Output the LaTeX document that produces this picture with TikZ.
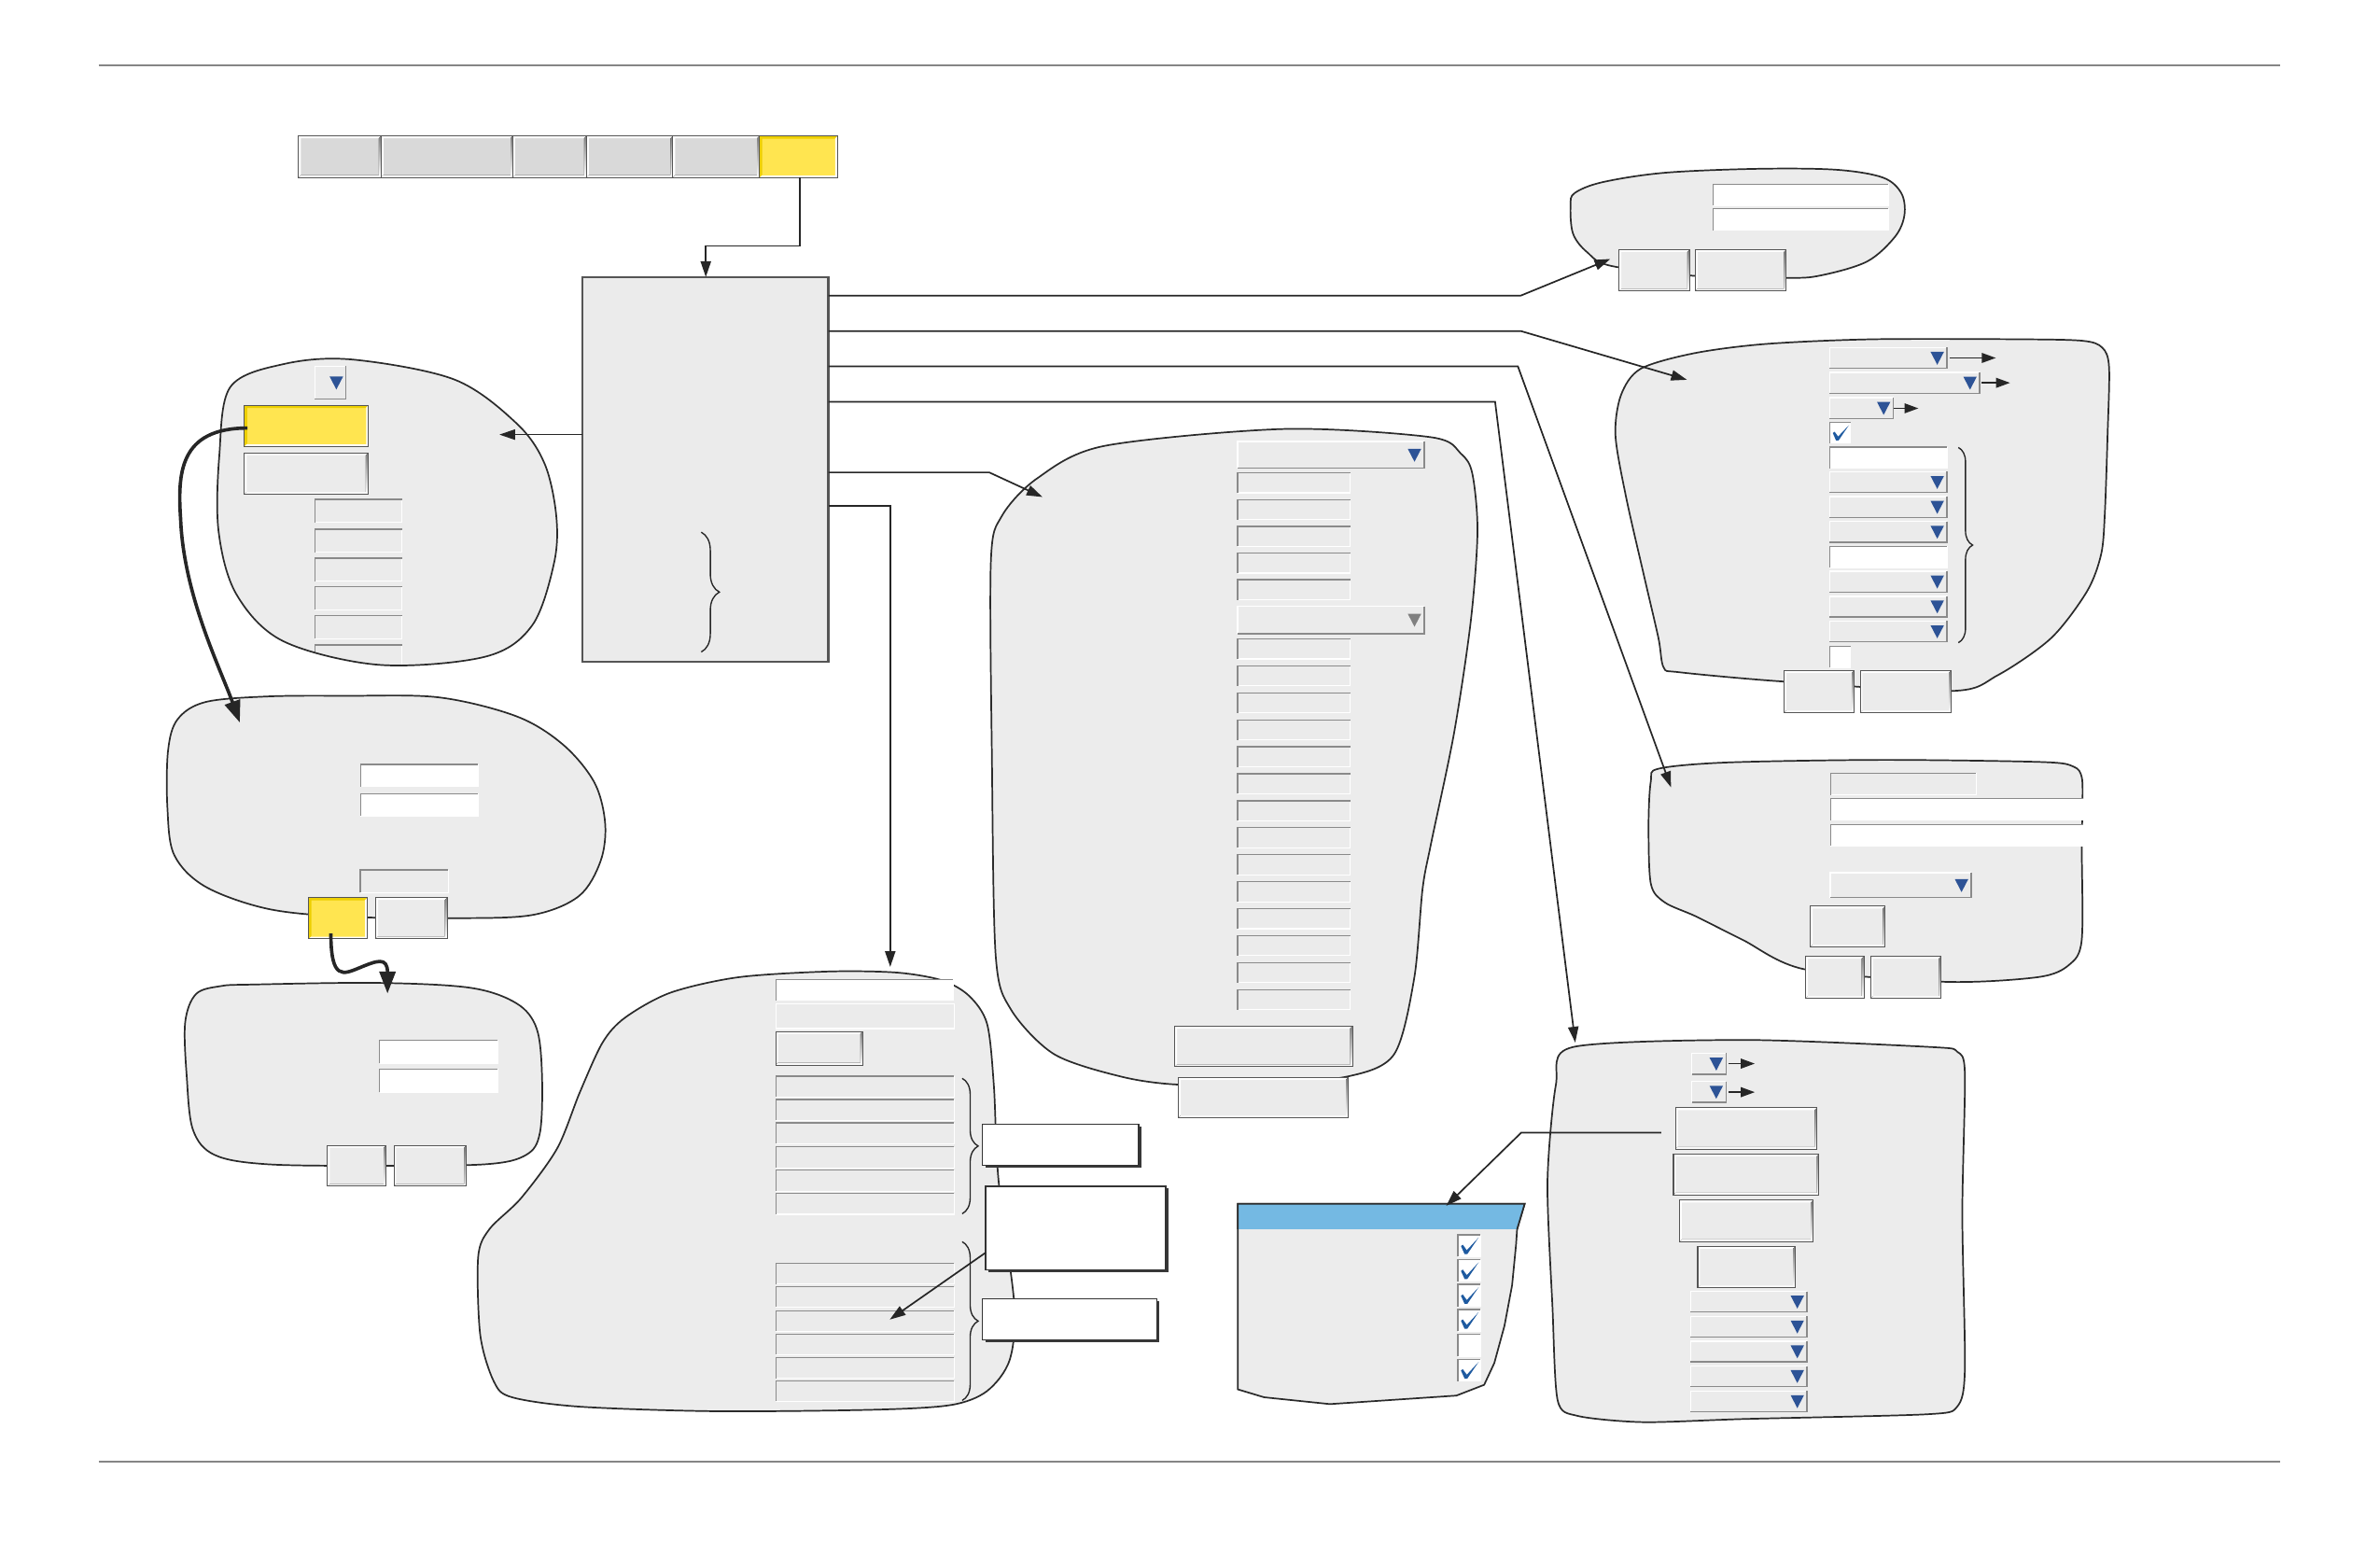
\documentclass[tikz,border=0pt]{standalone}
\usetikzlibrary{arrows.meta,decorations.pathreplacing,calc}
\definecolor{bubfill}{HTML}{ECECEC}
\definecolor{tabgray}{HTML}{D9D9D9}
\definecolor{btngray}{HTML}{EBEBEB}
\definecolor{shade}{HTML}{A8A8A8}
\definecolor{edge}{HTML}{555555}
\definecolor{fieldedge}{HTML}{8A8A8A}
\definecolor{ylw}{HTML}{FFE550}
\definecolor{ylwdark}{HTML}{EDCF00}
\definecolor{tri}{HTML}{2D5396}
\definecolor{trigray}{HTML}{808080}
\definecolor{hdrblue}{HTML}{74B9E3}
\definecolor{chk}{HTML}{1E5AA0}
\definecolor{rulecol}{HTML}{858585}
\definecolor{outl}{HTML}{2B2B2B}
\newcommand{\uiRaised}[5]{%
  \fill[#1] (#2,#3) rectangle (#4,#5);
  \fill[white] (#2,#3) -- (#4,#3) -- (#4-1.5,#3+1.5) -- (#2+1.5,#3+1.5) -- (#2+1.5,#5-1.5) -- (#2,#5) -- cycle;
  \fill[shade] (#4,#5) -- (#4,#3) -- (#4-1.5,#3+1.5) -- (#4-1.5,#5-1.5) -- (#2+1.5,#5-1.5) -- (#2,#5) -- cycle;
  \draw[edge, line width=0.45pt] (#2,#3) rectangle (#4,#5);
}
\newcommand{\uiPressed}[4]{%
  \fill[ylw] (#1,#2) rectangle (#3,#4);
  \fill[white] (#1,#4) -- (#3,#4) -- (#3,#2) -- (#3-1.3,#2+1.3) -- (#3-1.3,#4-1.3) -- (#1+1.3,#4-1.3) -- cycle;
  \fill[ylwdark] (#1,#4) -- (#1,#2) -- (#3,#2) -- (#3-1.8,#2+1.8) -- (#1+1.8,#2+1.8) -- (#1+1.8,#4-1.8) -- cycle;
  \draw[edge, line width=0.45pt] (#1,#2) rectangle (#3,#4);
}
\newcommand{\uiField}[5]{%
  \fill[#1] (#2,#3) rectangle (#4,#5);
  \draw[white, line width=0.5pt] (#2,#5) -- (#4,#5) -- (#4,#3);
  \draw[fieldedge, line width=0.6pt] (#2,#5) -- (#2,#3) -- (#4,#3);
}
\newcommand{\uiDrop}[5]{%
  \fill[btngray] (#2,#3) rectangle (#4,#5);
  \draw[white, line width=0.6pt] (#2,#5) -- (#2,#3) -- (#4,#3);
  \draw[fieldedge, line width=0.6pt] (#2,#5) -- (#4,#5) -- (#4,#3);
  \fill[#1] ({#4-10.8},{(#3+#5)/2-4}) -- ({#4-2.0},{(#3+#5)/2-4}) -- ({#4-6.4},{(#3+#5)/2+4.5}) -- cycle;
}
\newcommand{\uiTick}[4]{%
  \fill[chk] ({#1+2.0},{(#2+#4)/2+0.3}) -- ({#1+3.2},{(#2+#4)/2-0.6}) -- ({#1+0.4*(#3-#1)},{#4-4.2}) -- ({#3-1.0},{#2+1.8}) -- ({#3-1.6},{#2+2.6}) -- ({#1+0.42*(#3-#1)},{#4-1.6}) -- ({#1+0.3*(#3-#1)},{#4-1.6}) -- cycle;
}
\newcommand{\uiShadowBox}[4]{%
  \fill[black!78] (#1+1.8,#2+1.4) rectangle (#3+1.8,#4+1.4);
  \draw[fill=white, draw=black!80, line width=0.6pt] (#1,#2) rectangle (#3,#4);
}
\def\pathA{plot[smooth cycle, tension=0.55] coordinates {(231.6,236.8) (299.3,250) (340.3,278.9) (358.8,305.5) (366.5,340) (365,371) (350.6,412) (319.8,432.6) (250,438) (186.6,422.4) (155.8,391.6) (144,350) (144.5,300) (151.7,255) (186.6,239.9)}}
\def\pathB{plot[smooth cycle, tension=0.55] coordinates {(227.6,458.4) (289,459.4) (340.3,471.9) (371,490.6) (391.6,515.5) (398.7,542.6) (395.6,567.5) (381.3,590.4) (350.6,602.8) (299.3,604.9) (227.6,603.9) (176.3,598.7) (135.3,584.1) (114.8,563.3) (110.3,532.2) (110.7,494.7) (116.9,474) (135.3,462.5) (176.3,458.8)}}
\def\pathC{plot[smooth cycle, tension=0.55] coordinates {(166,648.6) (248,647.5) (309.6,650.7) (340.3,661) (353.6,677.7) (357.1,708.9) (355.7,746.3) (346.5,760.9) (319.8,767) (248,768) (176.3,767) (141.5,760.9) (127.1,744.2) (123,708.9) (122,673.5) (129.2,654.8) (145.6,649.6)}}
\def\pathD{plot[smooth cycle, tension=0.55] coordinates {(1034.7,135.4) (1037.4,127.2) (1055.8,120) (1096.8,113.8) (1158.3,111.2) (1209.5,111.8) (1240.3,116.9) (1252.6,127.2) (1254.7,141.5) (1248.5,155.9) (1230,172.3) (1199.3,181.5) (1176.8,183.1) (1120,182) (1062,175.3) (1045.6,166.1) (1036.3,153.8)}}
\def\pathE{plot[smooth cycle, tension=0.5] coordinates {(1233.7,223.5) (1330,223.5) (1372,224.5) (1385,229) (1389.5,242) (1388.5,287) (1386.7,338.3) (1384.3,365) (1375,389.5) (1351.4,420.3) (1316,444.9) (1285.5,455.2) (1175,449) (1106.7,442.9) (1096.1,439.8) (1092.6,420.3) (1083.1,379.3) (1071.4,328) (1064.3,287) (1067.9,260.4) (1080.8,243) (1116.1,232.7) (1163.2,226.6)}}
\def\pathF{plot[smooth cycle, tension=0.5] coordinates {(846,282.6) (942.6,288) (962.4,298.8) (970,312) (973.4,350.3) (969,409) (958,482.7) (942.7,556.2) (937.2,585.7) (931.7,644.5) (918.5,694.5) (887.7,709.2) (830,714) (775.8,714.5) (738.4,709.2) (694.5,694.5) (666,665) (656,629.8) (653.5,500) (652.8,370) (660,340) (683.5,315) (727.4,293.8)}}
\def\pathG{plot[smooth cycle, tension=0.45] coordinates {(1036.2,689.8) (1149.5,685.1) (1272.8,689.8) (1289.5,692.9) (1294.5,707.3) (1292.8,799.5) (1294.5,902) (1289.5,926.6) (1269.5,931.7) (1149.5,934.8) (1082.8,936.9) (1039.5,932.8) (1026.2,922.5) (1022.8,861) (1019.5,779) (1025,715)}}
\def\pathI{plot[smooth cycle, tension=0.5] coordinates {(546,640) (590.7,640.7) (620.5,645.8) (638.4,656) (650.3,674.5) (654.8,715.5) (657.8,777) (668.2,859) (665.2,895.9) (650.3,916.4) (626.5,925.6) (575.8,928.7) (471.5,929.7) (382,926.7) (337.3,920.5) (325.4,910.2) (316.4,879.5) (315,828.3) (322.4,809.8) (343.3,789.3) (367.1,756.5) (382,719.6) (397,686.8) (411.8,670.4) (441.6,654) (486.4,643.8)}}
\def\pathJ{plot[smooth cycle, tension=0.5] coordinates {(1092.7,506.4) (1137.8,502.3) (1240.3,500.6) (1345,502) (1366,505) (1371.5,512) (1372,530) (1371.5,557.6) (1371.5,619.1) (1363.3,635.5) (1342.8,643.7) (1281.3,646.8) (1189,638.6) (1148,619.1) (1117.3,603.7) (1096.8,594.5) (1087.6,582.2) (1086.1,543.3) (1087.6,514.6)}}
\begin{document}
\begin{tikzpicture}[x=0.25mm,y=-0.25mm,
  bubble/.style={fill=bubfill, draw=outl, line width=0.75pt},
  conn/.style={draw=black!85, line width=0.75pt, -{Triangle[length=2.6mm,width=1.7mm]}},
  smallconn/.style={draw=black!85, line width=0.75pt, -{Triangle[length=2.3mm,width=1.6mm]}},
  thickconn/.style={draw=black!85, line width=1.6pt, -{Triangle[length=3.6mm,width=2.6mm]}},
  bracestyle/.style={decorate, draw=black!85, line width=0.6pt}]
\useasboundingbox (0,0) rectangle (1568,1015);
% rules
\draw[rulecol, line width=0.6pt] (65,43) -- (1502,43);
\draw[rulecol, line width=0.6pt] (65,963) -- (1502,963);
% tabs
\uiRaised{tabgray}{196.7}{89.6}{251.1}{116.9}
\uiRaised{tabgray}{251.1}{89.6}{337.9}{116.9}
\uiRaised{tabgray}{337.9}{89.6}{386.4}{116.9}
\uiRaised{tabgray}{386.4}{89.6}{443.3}{116.9}
\uiRaised{tabgray}{443.3}{89.6}{500.3}{116.9}
\uiPressed{500.3}{89.6}{551.6}{116.9}
% main box
\draw[fill=btngray, draw=edge, line width=1pt] (383.8,182.5) rectangle (545.8,436);
\draw[bracestyle, decoration={brace, amplitude=8.5pt}] (462,350.6) -- (462,429.5);
% bubble A
\fill[bubfill] \pathA;
\begin{scope}
\clip \pathA;
\foreach \yy in {329,348.6,367.6,386.5,405.6,424.8} {\uiField{btngray}{207.5}{\yy}{264.9}{\yy+15.2}}
\end{scope}
\draw[draw=outl, line width=0.75pt] \pathA;
\uiDrop{tri}{207.5}{241.3}{228}{262.9}
\uiPressed{161}{267}{242.5}{294}
\uiRaised{btngray}{161}{298.3}{242.5}{325.6}
% bubble B
\path[bubble] \pathB;
\uiField{white}{237.6}{503.5}{315}{518.2}
\uiField{white}{237.6}{522.8}{315}{537.4}
\uiField{btngray}{237.3}{573}{295.4}{587.9}
\uiPressed{203.4}{591.4}{241.8}{618.4}
\uiRaised{btngray}{247.6}{591.4}{294.6}{618.4}
% bubble C
\path[bubble] \pathC;
\uiField{white}{250.1}{685.4}{328}{700.5}
\uiField{white}{250.1}{704.3}{328}{719.7}
\uiRaised{btngray}{215.8}{754.6}{254.3}{781.5}
\uiRaised{btngray}{259.5}{754.6}{307.3}{781.5}
% bubble D
\path[bubble] \pathD;
\uiField{white}{1128.6}{121.4}{1244}{135.4}
\uiField{white}{1128.6}{137.4}{1244}{151.8}
\uiRaised{btngray}{1066.7}{164.5}{1113.2}{191.7}
\uiRaised{btngray}{1116.9}{164.5}{1176.8}{191.7}
% bubble E
\path[bubble] \pathE;
\uiDrop{tri}{1205.5}{229}{1282.7}{242.6}
\uiDrop{tri}{1205.5}{245.4}{1304.3}{259}
\uiDrop{tri}{1205.5}{262}{1247.4}{275.6}
\uiField{white}{1205.5}{278.2}{1219.2}{291.8}
\uiTick{1205.5}{278.2}{1219.2}{291.8}
\uiField{white}{1205.5}{294.6}{1282.7}{308.6}
\uiDrop{tri}{1205.5}{310.8}{1282.7}{324.4}
\uiDrop{tri}{1205.5}{327.2}{1282.7}{340.8}
\uiDrop{tri}{1205.5}{343.6}{1282.7}{357.2}
\uiField{white}{1205.5}{360}{1282.7}{374}
\uiDrop{tri}{1205.5}{376.4}{1282.7}{390}
\uiDrop{tri}{1205.5}{392.8}{1282.7}{406.4}
\uiDrop{tri}{1205.5}{409.2}{1282.7}{422.8}
\uiField{white}{1205.5}{426}{1219.2}{439.8}
\draw[bracestyle, decoration={brace, amplitude=6.7pt}] (1290.2,294.8) -- (1290.2,423.4);
\uiRaised{btngray}{1175.4}{441.8}{1221.5}{469.5}
\uiRaised{btngray}{1225.5}{441.8}{1285.5}{469.5}
\coordinate (eA1) at (1284.3,235.8); \coordinate (eA1t) at (1314.9,235.8);
\coordinate (eA2) at (1305.5,252.2); \coordinate (eA2t) at (1324.3,252.2);
\coordinate (eA3) at (1247.9,269); \coordinate (eA3t) at (1263.9,269);
\draw[smallconn] (eA1) -- (eA1t);
\draw[smallconn] (eA2) -- (eA2t);
\draw[smallconn] (eA3) -- (eA3t);
% bubble J
\path[bubble] \pathJ;
\uiField{btngray}{1206.1}{509.4}{1301.8}{523.8}
\uiField{white}{1206.1}{526.2}{1372.5}{540.2}
\uiField{white}{1206.1}{543.3}{1372.5}{557.2}
\uiDrop{tri}{1205.9}{575}{1298.7}{591.4}
\uiRaised{btngray}{1192.7}{597}{1242}{623.8}
\uiRaised{btngray}{1189.7}{630}{1228}{657.6}
\uiRaised{btngray}{1232.5}{630}{1278.8}{657.6}
% bubble F
\path[bubble] \pathF;
\uiDrop{tri}{815.3}{290.9}{938.3}{308.5}
\foreach \yy in {311.5,329.1,346.7,364.3,381.9} {\uiField{btngray}{815.3}{\yy}{889.5}{\yy+13.2}}
\uiDrop{trigray}{815.3}{399.4}{938.3}{417.4}
\foreach \i in {0,...,13} {\pgfmathsetmacro\yy{420.9+17.77*\i}\uiField{btngray}{815.3}{\yy}{889.5}{\yy+13.2}}
\uiRaised{btngray}{774}{676}{891}{702.8}
\uiRaised{btngray}{776.4}{709.8}{888.2}{736.3}
% bubble G
\path[bubble] \pathG;
\uiDrop{tri}{1114.5}{693.9}{1137.1}{707.7}
\uiDrop{tri}{1114.5}{712.4}{1137.1}{726.3}
\coordinate (gA1) at (1138.8,700.7); \coordinate (gA1t) at (1156.1,700.7);
\coordinate (gA2) at (1138.8,719.5); \coordinate (gA2t) at (1156.1,719.5);
\draw[smallconn] (gA1) -- (gA1t);
\draw[smallconn] (gA2) -- (gA2t);
\uiRaised{btngray}{1103.8}{729.8}{1197.1}{757.1}
\uiRaised{btngray}{1102.5}{760.3}{1198.4}{787.2}
\uiRaised{btngray}{1106.5}{790.7}{1194.5}{818}
\uiRaised{btngray}{1118.5}{821.2}{1182.8}{848.3}
\foreach \yy in {850.8,867.2,883.6,899.9,916.4} {\uiDrop{tri}{1113.8}{\yy}{1190.5}{\yy+13.5}}
% panel H
\draw[fill=bubfill, draw=outl, line width=0.75pt] (815.5,793) -- (1004.5,793) -- (999.5,809.8) -- (998.8,820) -- (996.2,846.7) -- (991.2,873.3) -- (984.5,897.9) -- (977.8,912.3) -- (959.5,919.4) -- (876.2,925) -- (832.8,920.5) -- (815.5,915.3) -- cycle;
\fill[hdrblue] (815.5,793) -- (1004.5,793) -- (999.5,809.8) -- (815.5,809.8) -- cycle;
\draw[outl, line width=0.75pt] (815.5,809.8) -- (815.5,793) -- (1004.5,793) -- (999.5,809.8);
\foreach \yy in {813.4,829.8,846.2,862.6,879,895.4} {\uiField{white}{960.5}{\yy}{975.2}{\yy+14.4}}
\foreach \yy in {813.4,829.8,846.2,862.6,895.4} {\uiTick{960.5}{\yy}{975.2}{\yy+14.4}}
% bubble I
\path[bubble] \pathI;
\uiField{white}{511.1}{645.4}{628}{659.1}
\draw[white, fill=btngray, line width=0.6pt] (511.1,661.2) rectangle (628.9,677.6);
\uiRaised{btngray}{511.1}{679.6}{568.3}{701.6}
\foreach \yy in {708.9,724.3,739.7,755.5,770.9,786.2} {\uiField{btngray}{511.1}{\yy}{628.5}{\yy+13.8}}
\foreach \yy in {832.4,847.7,863.5,878.9,894.5,909.8} {\uiField{btngray}{511.1}{\yy}{628.5}{\yy+13.4}}
\draw[bracestyle, decoration={brace, amplitude=7.5pt}] (633.9,710.4) -- (633.9,799.6);
\draw[bracestyle, decoration={brace, amplitude=7.5pt}] (633.9,818) -- (633.9,922.6);
\uiShadowBox{647.3}{740.5}{750.2}{767.8}
\uiShadowBox{649.4}{781.5}{768}{836.5}
\uiShadowBox{647.3}{855.5}{762.1}{882.6}
% connectors
\coordinate (tabY) at (527,116.9);
\coordinate (mainTop) at (465,182.5);
\draw[conn] (tabY) -- (527,162) -- (465,162) -- (mainTop);
\coordinate (mainL) at (383.8,286.3);
\coordinate (tipA) at (329,286.3);
\draw[conn] (mainL) -- (tipA);
\coordinate (mainR1) at (545.8,194.7); \coordinate (tipD) at (1060.9,170.6);
\coordinate (mainR2) at (545.8,218.1); \coordinate (tipE) at (1111.4,250.2);
\coordinate (mainR3) at (545.8,241.3); \coordinate (tipJ) at (1100.9,518.7);
\coordinate (mainR4) at (545.8,264.7); \coordinate (tipG) at (1037.8,686.8);
\coordinate (mainR5) at (545.8,311.2); \coordinate (tipF) at (686.8,327.4);
\coordinate (mainR6) at (545.8,333.3); \coordinate (tipI) at (586.5,637);
\draw[conn] (mainR1) -- (1002,194.7) -- (tipD);
\draw[conn] (mainR2) -- (1002,218.1) -- (tipE);
\draw[conn] (mainR3) -- (1000,241.3) -- (tipJ);
\draw[conn] (mainR4) -- (985,264.7) -- (tipG);
\draw[conn] (mainR5) -- (651.7,311.2) -- (tipF);
\draw[conn] (mainR6) -- (586.5,333.3) -- (tipI);
\coordinate (gBtn) at (1094.5,746.2); \coordinate (tipH) at (952.8,794.4);
\draw[conn] (gBtn) -- (1002.2,746.2) -- (tipH);
\coordinate (boxTwoL) at (649.4,825.2); \coordinate (tipIin) at (586.2,869.3);
\draw[conn] (boxTwoL) -- (tipIin);
\coordinate (ylwA) at (163,282); \coordinate (tipB) at (158,476);
\draw[thickconn] (ylwA) .. controls (118,282) and (117,312) .. (119,342) .. controls (121,392) and (145,440) .. (tipB);
\coordinate (ylwB) at (218,615); \coordinate (tipC) at (255.3,654.5);
\draw[thickconn] (ylwB) .. controls (218,646) and (226,642) .. (237,637.5) .. controls (248,633) and (255.3,630) .. (tipC);
\end{tikzpicture}
\end{document}
